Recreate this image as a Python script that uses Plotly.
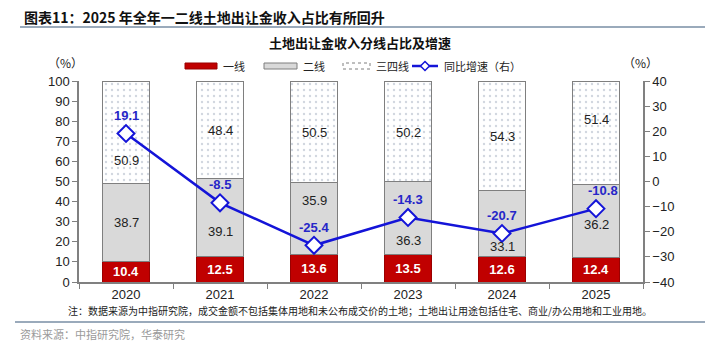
import plotly.graph_objects as go

# Land-sale revenue share by city tier (%) and YoY growth (%)
years = ["2020", "2021", "2022", "2023", "2024", "2025"]
tier1 = [10.4, 12.5, 13.6, 13.5, 12.6, 12.4]
tier2 = [38.7, 39.1, 35.9, 36.3, 33.1, 36.2]
tier34 = [50.9, 48.4, 50.5, 50.2, 54.3, 51.4]
yoy = [19.1, -8.5, -25.4, -14.3, -20.7, -10.8]

# label heights (left-axis units) for the stacked segment values
tier2_label_y = [29.4, 24.9, 40.6, 20.7, 17.9, 28.7]
tier34_label_y = [60.5, 75.6, 74.6, 74.6, 72.5, 81.0]
# horizontal nudges (px) for the growth labels
yoy_label_dx = [0, 0, 0, 0, 0, 7]

W, H = 718, 349
L, R, T, B = 79, 75, 81, 67
PW, PH = W - L - R, H - T - B


def px_x(px):
    return (px - L) / PW


def px_y(py):
    return (H - B - py) / PH


CJK = "Noto Sans CJK SC"
NUM = "Liberation Sans, Arial"
RED = "#C00000"
GRAY = "#D9D9D9"
EDGE = "#7F7F7F"
BLUE = "#1414D8"
LBLUE = "#2626C8"

fig = go.Figure()
fig.add_bar(
    x=years, y=tier1, name="一线",
    marker=dict(color=RED, line=dict(color="#9A0000", width=1)),
    text=[f"{v:.1f}" for v in tier1], textposition="inside",
    insidetextanchor="middle", textangle=0,
    textfont=dict(color="white", size=13, family=NUM, weight="bold"),
)
fig.add_bar(
    x=years, y=tier2, name="二线",
    marker=dict(color=GRAY, line=dict(color=EDGE, width=1)),
)
fig.add_bar(
    x=years, y=tier34, name="三四线",
    marker=dict(
        color="white", line=dict(color=EDGE, width=1),
        pattern=dict(shape=".", fgcolor="#A3AEC0", bgcolor="white",
                     size=6, solidity=0.12),
    ),
)
fig.add_scatter(
    x=years, y=yoy, yaxis="y2", name="同比增速（右）", mode="lines+markers",
    line=dict(color=BLUE, width=2.5),
    marker=dict(symbol="diamond", size=13, color="white",
                line=dict(color=BLUE, width=2)),
)

ann = []
for i in range(len(years)):
    ann.append(dict(x=i, y=tier2_label_y[i], xref="x", yref="y",
                    text=f"{tier2[i]:.1f}", showarrow=False,
                    xanchor="center", yanchor="middle",
                    font=dict(size=13, family=NUM, color="#222")))
    ann.append(dict(x=i, y=tier34_label_y[i], xref="x", yref="y",
                    text=f"{tier34[i]:.1f}", showarrow=False,
                    xanchor="center", yanchor="middle",
                    font=dict(size=13, family=NUM, color="#222")))
    ann.append(dict(x=i, y=yoy[i], xref="x", yref="y2", yshift=18,
                    xshift=yoy_label_dx[i],
                    text=f"<b>{yoy[i]:.1f}</b>", showarrow=False,
                    xanchor="center", yanchor="middle",
                    font=dict(size=13, family=NUM, color=LBLUE)))


def paper_text(px, py, text, size, color="#222", anchor="center"):
    return dict(x=px_x(px), y=px_y(py), xref="paper", yref="paper",
                xanchor=anchor, yanchor="middle", text=text, showarrow=False,
                font=dict(size=size, family=CJK, color=color))


# header, axis units, notes
ann += [
    paper_text(22, 17, "<b>图表11：2025 年全年一二线土地出让金收入占比有所回升</b>",
               14, "#111", "left"),
    paper_text(360, 43, "<b>土地出让金收入分线占比及增速</b>", 13, "#111"),
    paper_text(65, 62, "（%）", 12),
    paper_text(640, 62, "（%）", 12),
    paper_text(360, 310,
               "注：数据来源为中指研究院，成交金额不包括集体用地和未公布成交价的土地；"
               "土地出让用途包括住宅、商业/办公用地和工业用地。", 10),
    paper_text(18, 334, "资料来源：中指研究院，华泰研究", 11, "#9A9A9A", "left"),
]

# legend items
legend_items = [
    ("一线", 185, 217),
    ("二线", 264, 297),
    ("三四线", 343, 370),
    ("同比增速（右）", 412, 438),
]
for name, x0, x1 in legend_items:
    ann.append(paper_text(x1 + 4, 66, name, 11, "#222", "left"))

shapes = [
    dict(type="line", xref="paper", yref="paper", x0=px_x(20), x1=px_x(705),
         y0=px_y(27), y1=px_y(27), line=dict(color="#9AAABB", width=2)),
    dict(type="line", xref="paper", yref="paper", x0=px_x(15), x1=px_x(705),
         y0=px_y(322), y1=px_y(322), line=dict(color="#9AAABB", width=2)),
    dict(type="rect", xref="paper", yref="paper", x0=px_x(185), x1=px_x(217),
         y0=px_y(69), y1=px_y(63), fillcolor=RED, line=dict(color="#9A0000", width=1)),
    dict(type="rect", xref="paper", yref="paper", x0=px_x(264), x1=px_x(297),
         y0=px_y(69), y1=px_y(63), fillcolor=GRAY, line=dict(color=EDGE, width=1)),
    dict(type="rect", xref="paper", yref="paper", x0=px_x(343), x1=px_x(370),
         y0=px_y(69), y1=px_y(63), fillcolor="white",
         line=dict(color=EDGE, width=1, dash="dot")),
    dict(type="line", xref="paper", yref="paper", x0=px_x(412), x1=px_x(438),
         y0=px_y(66), y1=px_y(66), line=dict(color=BLUE, width=2.5)),
    dict(type="path", xref="paper", yref="paper",
         path=(f"M{px_x(425)},{px_y(61.5)} L{px_x(429.5)},{px_y(66)} "
               f"L{px_x(425)},{px_y(70.5)} L{px_x(420.5)},{px_y(66)} Z"),
         fillcolor="white", line=dict(color=BLUE, width=1.5)),
]

axis_common = dict(
    showline=True, linecolor="#808080", linewidth=1.5,
    ticks="outside", ticklen=5, tickcolor="#808080", tickwidth=1.2,
    showgrid=False, zeroline=False,
    tickfont=dict(size=13, family=NUM, color="#222"),
)

fig.update_layout(
    width=W, height=H,
    margin=dict(l=L, r=R, t=T, b=B),
    paper_bgcolor="white", plot_bgcolor="white",
    barmode="stack", bargap=0.51,
    showlegend=False,
    xaxis=dict(type="category", range=[-0.5, 5.5], tickson="boundaries",
               **axis_common),
    yaxis=dict(range=[0, 100], dtick=10, **axis_common),
    yaxis2=dict(range=[-40, 40], dtick=10, overlaying="y", side="right",
                anchor="x", **axis_common),
    annotations=ann, shapes=shapes,
)

fig.write_html("out.html")
